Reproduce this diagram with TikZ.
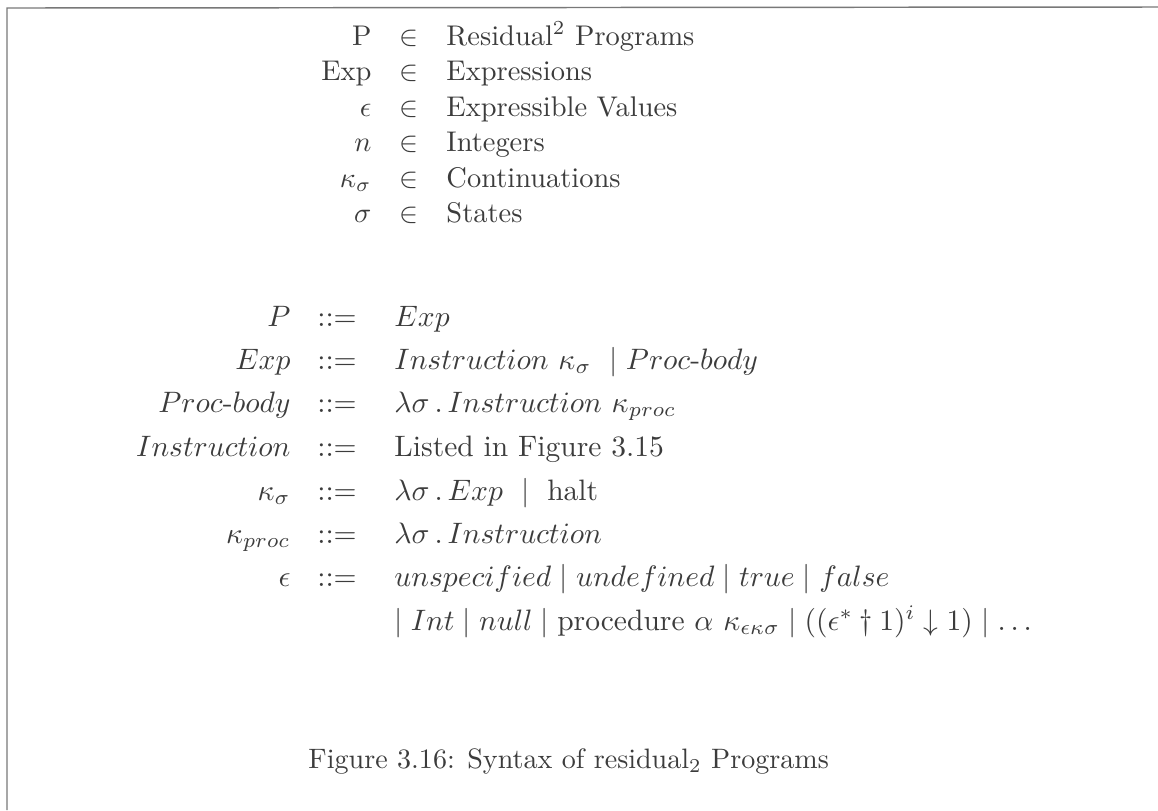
\documentclass[tikz,border=0pt]{standalone}
\usepackage{amsmath}
\usepackage{amssymb}
\usepackage{graphicx}
\usepackage{tikz}
\definecolor{framegray}{RGB}{120,120,120}
\definecolor{inkgray}{RGB}{60,60,60}
\newcommand{\dom}[1]{\scalebox{1.175}{#1}}
\newcommand{\gram}[1]{\scalebox{1.22}{#1}}
\newcommand{\capt}[1]{\scalebox{1.16}{#1}}

\begin{document}
\begin{tikzpicture}[
    x=0.413pt, y=-0.413pt,
    lhs/.style={anchor=base east, inner sep=0pt, text=inkgray},
    rel/.style={anchor=base, inner sep=0pt, text=inkgray},
    rhs/.style={anchor=base west, inner sep=0pt, text=inkgray},
]
\useasboundingbox (0,0) rectangle (1158,810);

% Frame (top and left edges)
\coordinate (tl) at (7,8);
\coordinate (tr) at (1158,7);
\coordinate (bl) at (7,810);
\draw[framegray, line width=0.6pt] (tr) -- (tl) -- (bl);

% Domains
\node[lhs] (dP) at (372,45) {\dom{P}};
\node[rel] (iP) at (409,45) {\dom{$\in$}};
\node[rhs] (sP) at (446,45) {\dom{Residual$^2$ Programs}};

\node[lhs] (dExp) at (372,80.5) {\dom{Exp}};
\node[rel] (iExp) at (409,80.5) {\dom{$\in$}};
\node[rhs] (sExp) at (446,80.5) {\dom{Expressions}};

\node[lhs] (dEps) at (372,116) {\dom{$\epsilon$}};
\node[rel] (iEps) at (409,116) {\dom{$\in$}};
\node[rhs] (sEps) at (446,116) {\dom{Expressible Values}};

\node[lhs] (dInt) at (372,151.5) {\dom{$n$}};
\node[rel] (iInt) at (409,151.5) {\dom{$\in$}};
\node[rhs] (sInt) at (446,151.5) {\dom{Integers}};

\node[lhs] (dKap) at (372,187) {\dom{$\kappa_\sigma$}};
\node[rel] (iKap) at (409,187) {\dom{$\in$}};
\node[rhs] (sKap) at (446,187) {\dom{Continuations}};

\node[lhs] (dSig) at (372,222.5) {\dom{$\sigma$}};
\node[rel] (iSig) at (409,222.5) {\dom{$\in$}};
\node[rhs] (sSig) at (446,222.5) {\dom{States}};

% Grammar
\node[lhs] (gP) at (291,326) {\gram{$P$}};
\node[rel] (eP) at (337,326) {\gram{::=}};
\node[rhs] (rP) at (394,326) {\gram{$Exp$}};

\node[lhs] (gExp) at (291,369) {\gram{$Exp$}};
\node[rel] (eExp) at (337,369) {\gram{::=}};
\node[rhs] (rExp) at (394,369) {\gram{$Instruction\ \kappa_\sigma\ \mid Proc\text{-}body$}};

\node[lhs] (gBody) at (291,412) {\gram{$Proc\text{-}body$}};
\node[rel] (eBody) at (337,412) {\gram{::=}};
\node[rhs] (rBody) at (394,412) {\gram{$\lambda\sigma\,.\,Instruction\ \kappa_{proc}$}};

\node[lhs] (gIns) at (291,456) {\gram{$Instruction$}};
\node[rel] (eIns) at (337,456) {\gram{::=}};
\node[rhs] (rIns) at (394,456) {\gram{Listed in Figure 3.15}};

\node[lhs] (gKap) at (291,500) {\gram{$\kappa_\sigma$}};
\node[rel] (eKap) at (337,500) {\gram{::=}};
\node[rhs] (rKap) at (394,500) {\gram{$\lambda\sigma\,.\,Exp\ \mid\ \text{halt}$}};

\node[lhs] (gProc) at (291,543) {\gram{$\kappa_{proc}$}};
\node[rel] (eProc) at (337,543) {\gram{::=}};
\node[rhs] (rProc) at (394,543) {\gram{$\lambda\sigma\,.\,Instruction$}};

\node[lhs] (gEps) at (291,586) {\gram{$\epsilon$}};
\node[rel] (eEps) at (337,586) {\gram{::=}};
\node[rhs] (rEps) at (394,586) {\gram{$unspecified \mid undefined \mid true \mid false$}};
\node[rhs] (rEps2) at (394,630) {\gram{$\mid Int \mid null \mid \text{procedure}\ \alpha\ \kappa_{\epsilon\kappa\sigma} \mid ((\epsilon^*\dagger 1)^i\downarrow 1) \mid \ldots$}};

% Caption
\node[anchor=base west, inner sep=0pt, text=inkgray] (cap) at (308,768) {\capt{Figure 3.16: Syntax of residual$_2$ Programs}};

\end{tikzpicture}
\end{document}
